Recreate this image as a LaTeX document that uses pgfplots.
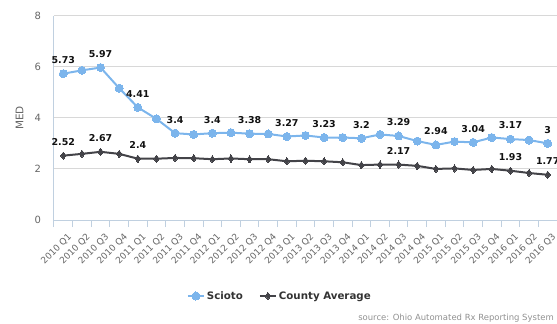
\documentclass[border=0pt]{standalone}
\usepackage{fontspec}
\setmainfont{DejaVu Sans}
\usepackage{pgfplots}
\usepackage{pgfplotstable}
\pgfplotsset{compat=1.18}
\definecolor{tickgray}{HTML}{666666}
\definecolor{gridgray}{HTML}{D8D8D8}
\definecolor{axiscol}{HTML}{C0D0E0}
\definecolor{sciotoblue}{HTML}{7CB5EC}
\definecolor{countydark}{HTML}{434348}
\definecolor{labelcol}{HTML}{111111}
\definecolor{srcgray}{HTML}{909090}
\definecolor{legtext}{HTML}{333333}

\pgfplotstableread{
x y lbl
0 5.73 5.73
1 5.86 {}
2 5.97 5.97
3 5.16 {}
4 4.41 4.41
5 3.96 {}
6 3.40 3.4
7 3.35 {}
8 3.40 3.4
9 3.42 {}
10 3.38 3.38
11 3.37 {}
12 3.27 3.27
13 3.31 {}
14 3.23 3.23
15 3.23 {}
16 3.20 3.2
17 3.35 {}
18 3.29 3.29
19 3.09 {}
20 2.94 2.94
21 3.07 {}
22 3.04 3.04
23 3.23 {}
24 3.17 3.17
25 3.13 {}
26 3.00 3
}\scioto

\pgfplotstableread{
x y lbl
0 2.52 2.52
1 2.59 {}
2 2.67 2.67
3 2.59 {}
4 2.40 2.4
5 2.40 {}
6 2.43 {}
7 2.42 {}
8 2.38 {}
9 2.41 {}
10 2.38 {}
11 2.38 {}
12 2.30 {}
13 2.32 {}
14 2.30 {}
15 2.26 {}
16 2.15 {}
17 2.17 {}
18 2.17 2.17
19 2.12 {}
20 2.00 {}
21 2.02 {}
22 1.96 {}
23 2.00 {}
24 1.93 1.93
25 1.84 {}
26 1.77 1.77
}\county

\begin{document}
\begin{tikzpicture}
\useasboundingbox (-54bp,-104bp) rectangle (503bp,220bp);
\begin{axis}[
  scale only axis,
  width=503bp, height=204.3bp,
  xmin=-0.5, xmax=26.5, ymin=0, ymax=8,
  clip=false,
  axis x line*=bottom, axis y line*=left,
  axis line style={-, draw=axiscol, line width=1bp},
  xtick={0,...,26},
  xticklabels={2010 Q1,2010 Q2,2010 Q3,2010 Q4,2011 Q1,2011 Q2,2011 Q3,2011 Q4,2012 Q1,2012 Q2,2012 Q3,2012 Q4,2013 Q1,2013 Q2,2013 Q3,2013 Q4,2014 Q1,2014 Q2,2014 Q3,2014 Q4,2015 Q1,2015 Q2,2015 Q3,2015 Q4,2016 Q1,2016 Q2,2016 Q3},
  minor xtick={-0.5,0.5,...,26.5},
  tick align=outside,
  major tick length=0bp,
  minor tick length=7bp,
  major x tick style={draw=none},
  minor x tick style={draw=axiscol, line width=1bp},
  ytick={0,2,4,6,8},
  ytick style={draw=none},
  ymajorgrids,
  major grid style={draw=gridgray, line width=1bp},
  /pgf/number format/assume math mode=true,
  xticklabel style={rotate=45, anchor=north east, font=\fontsize{9}{10}\selectfont, text=tickgray, inner sep=1bp, xshift=-5bp, yshift=-10.5bp},
  yticklabel style={font=\fontsize{10}{12}\selectfont, text=tickgray, xshift=-9.5bp},
  ylabel={MED},
  ylabel style={at={(axis description cs:-0.0686,0.5)}, anchor=center, font=\fontsize{10.5}{12}\selectfont, text=tickgray},
  legend style={at={(0.449,-0.372)}, anchor=center, draw=none, fill=none,
    font=\fontsize{10.3}{12}\selectfont\bfseries, text=legtext,
    /tikz/every even column/.append style={column sep=14bp}},
  legend columns=2,
  legend image code/.code={\draw[#1,mark=none] (0bp,0bp) -- (16bp,0bp); \draw[#1] plot coordinates {(8bp,0bp)};},
  nodes near coords={\pgfplotspointmeta},
  point meta=explicit symbolic,
  every node near coord/.append style={anchor=south, yshift=9bp, inner sep=1bp, font=\fontsize{9.5}{11}\selectfont\bfseries, text=labelcol},
]
\addplot[color=sciotoblue, line width=2bp, mark=*, mark size=4bp, mark options={fill=sciotoblue, draw=sciotoblue, line width=0bp}] table[x=x, y=y, meta=lbl] {\scioto};
\addlegendentry{Scioto}
\addplot[color=countydark, line width=2bp, mark=diamond*, mark size=3.6bp, mark options={fill=countydark, draw=countydark, line width=0bp}] table[x=x, y=y, meta=lbl] {\county};
\addlegendentry{County Average}
\end{axis}
\node[anchor=base east, font=\fontsize{8.5}{10}\selectfont, text=srcgray, inner sep=0pt] at (500bp,-100bp) {source: Ohio Automated Rx Reporting System};
\end{tikzpicture}
\end{document}
